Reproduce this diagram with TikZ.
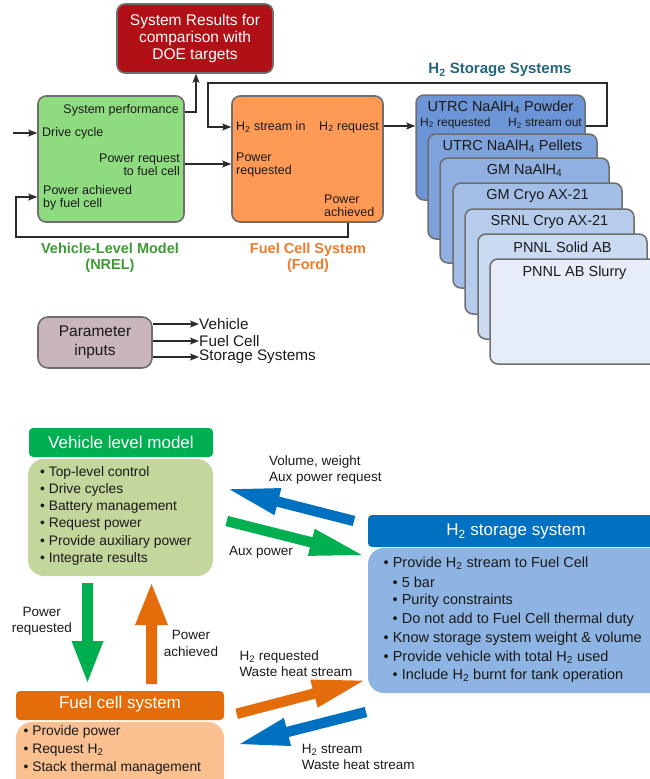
\documentclass[tikz,border=0pt]{standalone}
\usepackage{fontspec}
\setmainfont{Liberation Sans}
\usetikzlibrary{calc,arrows.meta}
\definecolor{txt}{HTML}{1A1A1A}
\definecolor{linec}{HTML}{2A2A2A}
\definecolor{boxline}{HTML}{6E6E6E}
\definecolor{redbox}{HTML}{B11116}
\definecolor{greenbox}{HTML}{8FDB7F}
\definecolor{orangebox}{HTML}{FF9A56}
\definecolor{mauve}{HTML}{C8B5BE}
\definecolor{vlab}{HTML}{3E9B34}
\definecolor{flab}{HTML}{EE7B2A}
\definecolor{sttl}{HTML}{25667A}
\definecolor{sA}{HTML}{6B95D6}
\definecolor{sB}{HTML}{7EA2DC}
\definecolor{sC}{HTML}{90B0E2}
\definecolor{sD}{HTML}{A3BEE7}
\definecolor{sE}{HTML}{B6CCEC}
\definecolor{sF}{HTML}{CADAF1}
\definecolor{sG}{HTML}{E6EDF8}
\definecolor{vgH}{HTML}{00B050}
\definecolor{vgB}{HTML}{C3D69B}
\definecolor{sbH}{HTML}{0070C0}
\definecolor{sbB}{HTML}{8EB4E3}
\definecolor{fcH}{HTML}{E46C0A}
\definecolor{fcB}{HTML}{FAC090}
\newcommand{\fsz}[2]{\fontsize{#1}{#2}\selectfont}
\newcommand{\mybox}[6]{\node[#1, minimum width={(#4-#2)*1pt}, minimum height={(#5-#3)*1pt}] (#6) at ({(#2+#4)/2},{(#3+#5)/2}) {};}
\newcommand{\blockarrow}[6]{%
  \coordinate (ban) at ($(#3)!#6!(#2)$);
  \fill[#1] ($(#2)!#4!90:(#3)$) -- ($(ban)!#4!-90:(#2)$) -- ($(ban)!#5!-90:(#2)$) -- (#3) -- ($(ban)!#5!90:(#2)$) -- ($(ban)!#4!90:(#2)$) -- ($(#2)!#4!-90:(#3)$) -- cycle;
}
\begin{document}
\begin{tikzpicture}[x=1pt,y=-1pt,
  every node/.style={text=txt, inner sep=0pt},
  conn/.style={draw=linec, line width=1.1pt, -{Stealth[length=9pt,width=7pt,inset=2pt]}},
  tbox/.style={draw=boxline, line width=1.6pt, rounded corners=8pt},
  sbox/.style={draw=boxline, line width=1.5pt, rounded corners=8pt},
  lbl/.style={font=\fsz{12.5}{13}},
  slbl/.style={font=\fsz{14.5}{15}},
  plbl/.style={font=\fsz{15.3}{16}},
  hdr/.style={rounded corners=4pt},
  bdy/.style={rounded corners=16pt},
  htxt/.style={text=white, font=\fsz{17}{18}},
  item/.style={font=\fsz{13.8}{16}, anchor=west},
  sitem/.style={font=\fsz{14.5}{16}, anchor=west},
  alab/.style={font=\fsz{13.5}{16.5}, align=left}
]
\useasboundingbox (0,0) rectangle (650,779);

% ---------- top diagram ----------
\mybox{tbox, fill=redbox}{117}{4}{273}{73}{red}
\node[text=white, font=\fsz{15.5}{17}, align=center] (redt) at (195,38.5) {System Results for\\comparison with\\DOE targets};

\mybox{tbox, fill=greenbox}{38}{96}{184}{222}{veh}
\mybox{tbox, fill=orangebox}{232}{96}{383}{222}{fc}

\node[lbl, anchor=east] (sp) at (179,110) {System performance};
\node[lbl, anchor=west] (dc) at (42,133) {Drive cycle};
\node[lbl, anchor=east, align=right] (prf) at (180,164.5) {Power request\\to fuel cell};
\node[lbl, anchor=west, align=left] (paf) at (43,198) {Power achieved\\by fuel cell};

\node[lbl, anchor=west] (hsi) at (236,127) {H\textsubscript{2} stream in};
\node[lbl, anchor=east] (hrq) at (379,127) {H\textsubscript{2} request};
\node[lbl, anchor=west, align=left] (preq) at (236,164.5) {Power\\requested};
\node[lbl, anchor=west, align=left] (pach) at (324,205.5) {Power\\achieved};

\node[font=\bfseries\fsz{14.5}{15.5}, text=vlab, align=center] (vlm) at (110,257.5) {Vehicle-Level Model\\(NREL)};
\node[font=\bfseries\fsz{14.5}{15.5}, text=flab, align=center] (fcs) at (308,257.5) {Fuel Cell System\\(Ford)};

\node[font=\bfseries\fsz{15}{16}, text=sttl] (sttitle) at (500,70) {H\textsubscript{2} Storage Systems};

% storage stack
\mybox{sbox, fill=sA}{416}{95}{585}{200}{st1}
\node[slbl] (t1) at (500.5,107) {UTRC NaAlH\textsubscript{4} Powder};
\node[font=\fsz{12}{13}, anchor=west] (t1a) at (420,123) {H\textsubscript{2} requested};
\node[font=\fsz{12}{13}, anchor=east] (t1b) at (582,123) {H\textsubscript{2} stream out};
\mybox{sbox, fill=sB}{428}{134}{597}{239}{st2}
\node[slbl] (t2) at (512.5,146) {UTRC NaAlH\textsubscript{4} Pellets};
\mybox{sbox, fill=sC}{440}{158}{609}{263}{st3}
\node[slbl] (t3) at (524.5,170) {GM NaAlH\textsubscript{4}};
\mybox{sbox, fill=sD}{453}{183}{622}{288}{st4}
\node[slbl] (t4) at (537.5,196) {GM Cryo AX-21};
\mybox{sbox, fill=sE}{465}{209}{634}{314}{st5}
\node[slbl] (t5) at (549.5,222) {SRNL Cryo AX-21};
\mybox{sbox, fill=sF}{478}{234}{647}{339}{st6}
\node[slbl] (t6) at (562.5,247) {PNNL Solid AB};
\mybox{sbox, fill=sG}{490}{259}{659}{364}{st7}
\node[slbl] (t7) at (574.5,273) {PNNL AB Slurry};

% connectors
\coordinate (dcs) at (13,133);
\draw[conn] (dcs) -- (veh.west |- 0,133);
\draw[conn] (veh.east |- 0,112) -| (red.south -| 196,0);
\draw[conn] (veh.east |- 0,164) -- (fc.west |- 0,164);
\draw[conn] (fc.east |- 0,126) -- (st1.west |- 0,126);
\coordinate (lpA) at (607,83);
\coordinate (lpB) at (208,127);
\draw[conn] (st1.east |- 0,126) -| (lpA) -| (lpB) -- (fc.west |- 0,127);
\coordinate (lpC) at (348,237);
\coordinate (lpD) at (16,197);
\draw[conn] (fc.south -| 348,0) -- (lpC) -| (lpD) -- (veh.west |- 0,197);

% parameter inputs
\mybox{tbox, fill=mauve, rounded corners=10pt}{38}{317}{152}{368}{par}
\node[font=\fsz{15.5}{19}, align=center] (part) at (95,342) {Parameter\\inputs};
\node[plbl, anchor=west] (pv) at (199,324) {Vehicle};
\node[plbl, anchor=west] (pf) at (199,341) {Fuel Cell};
\node[plbl, anchor=west] (ps) at (199,357) {Storage Systems};
\draw[conn] (par.east |- pv.west) -- (pv.west);
\draw[conn] (par.east |- pf.west) -- (pf.west);
\draw[conn] (par.east |- ps.west) -- (ps.west);

% ---------- bottom diagram ----------
\mybox{hdr, fill=vgH}{29}{428}{213}{457}{vh}
\node[htxt] (vht) at (121,442) {Vehicle level model};
\mybox{bdy, fill=vgB}{28}{459}{213}{576}{vb}
\foreach \t [count=\i] in {Top-level control, Drive cycles, Battery management, Request power, Provide auxiliary power, Integrate results}
  \node[item] (vi\i) at (40,{473+17.2*(\i-1)}) {•\ \t};

\mybox{hdr, fill=sbH}{368}{515}{668}{547}{sh}
\node[htxt] (sht) at (516,531.5) {H\textsubscript{2} storage system};
\mybox{bdy, fill=sbB}{368}{548}{668}{693}{sb}
\node[sitem] (si1) at (383.5,563.3) {•\ Provide H\textsubscript{2} stream to Fuel Cell};
\node[sitem] (si2) at (392.5,582.3) {•\ 5 bar};
\node[sitem] (si3) at (392.5,601.2) {•\ Purity constraints};
\node[sitem] (si4) at (392.5,620) {•\ Do not add to Fuel Cell thermal duty};
\node[sitem] (si5) at (383.5,638.7) {•\ Know storage system weight \& volume};
\node[sitem] (si6) at (383.5,657.3) {•\ Provide vehicle with total H\textsubscript{2} used};
\node[sitem] (si7) at (392.5,675.8) {•\ Include H\textsubscript{2} burnt for tank operation};

\mybox{hdr, fill=fcH}{16}{691}{224}{720}{fh}
\node[htxt] (fht) at (120,704.5) {Fuel cell system};
\mybox{bdy, fill=fcB}{16}{722}{224}{800}{fb}
\node[item] (fi1) at (23.5,732.3) {•\ Provide power};
\node[item] (fi2) at (23.5,750) {•\ Request H\textsubscript{2}};
\node[item] (fi3) at (23.5,767.7) {•\ Stack thermal management};

% block arrows
\coordinate (a1s) at (354,521); \coordinate (a1e) at (229.5,489.3);
\blockarrow{fill=sbH}{a1s}{a1e}{5.2pt}{14pt}{50pt}
\coordinate (a2s) at (226.7,521); \coordinate (a2e) at (361.7,555);
\blockarrow{fill=vgH}{a2s}{a2e}{5.2pt}{14pt}{52pt}
\coordinate (a3s) at (87.5,583); \coordinate (a3e) at (87.5,682);
\blockarrow{fill=vgH}{a3s}{a3e}{5.5pt}{16pt}{41pt}
\coordinate (a4s) at (151.5,684); \coordinate (a4e) at (151.5,584);
\blockarrow{fill=fcH}{a4s}{a4e}{5.5pt}{16.5pt}{41pt}
\coordinate (a5s) at (236.7,713.8); \coordinate (a5e) at (363.3,680.7);
\blockarrow{fill=fcH}{a5s}{a5e}{5.2pt}{14.5pt}{51pt}
\coordinate (a6s) at (366,712); \coordinate (a6e) at (240,744);
\blockarrow{fill=sbH}{a6s}{a6e}{5.2pt}{14.5pt}{49pt}

% arrow labels
\node[alab, anchor=west] (l1) at (269,470) {Volume, weight\\Aux power request};
\node[alab, anchor=west] (l2) at (229,552.3) {Aux power};
\node[alab, align=center] (l3) at (41.8,621) {Power\\requested};
\node[alab, align=center] (l4) at (191,643.3) {Power\\achieved};
\node[alab, anchor=west] (l5) at (239.3,663.7) {H\textsubscript{2} requested\\Waste heat stream};
\node[alab, anchor=west] (l6) at (301.7,757) {H\textsubscript{2} stream\\Waste heat stream};
\end{tikzpicture}
\end{document}
